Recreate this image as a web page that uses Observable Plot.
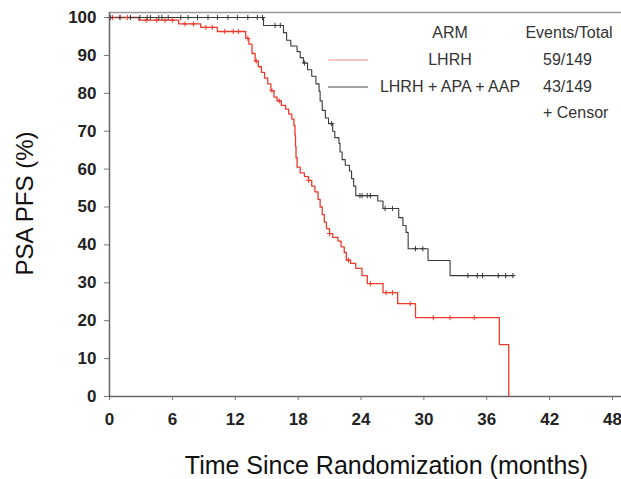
<!DOCTYPE html>
<html>
<head>
<meta charset="utf-8">
<script src="https://cdn.jsdelivr.net/npm/d3@7"></script>
<script src="https://cdn.jsdelivr.net/npm/@observablehq/plot@0.6"></script>
<style>
  html, body { margin: 0; padding: 0; background: #fff; }
  #wrap { position: relative; width: 621px; height: 479px; overflow: hidden; }
  #legend { position: absolute; left: 0; top: 0; width: 621px; height: 479px; pointer-events: none;
    font-family: "Liberation Sans Narrow", "Arial Narrow", "Liberation Sans", Arial, sans-serif; font-size: 16px; color: #333; }
  #legend div { position: absolute; white-space: nowrap; line-height: 1; }
  .c { transform: translate(-50%, -50%); }
  .l { transform: translate(0, -50%); }
  .sw { height: 0; border-top-style: solid; }
</style>
</head>
<body>
<div id="wrap"><div id="chart"></div><div id="legend"></div></div>
<script>
// ---- Data ----
const xTicks = [0, 6, 12, 18, 24, 30, 36, 42, 48];
const yTicks = [0, 10, 20, 30, 40, 50, 60, 70, 80, 90, 100];

// LHRH arm: step changes [months, PSA PFS %]
const lhrhTime  = [0, 2.8, 6.6, 8.7, 10.3, 13.0, 13.3, 13.6, 13.9, 14.2, 14.5, 14.8, 15.1, 15.4, 15.7, 16.0, 16.4, 16.8, 17.1, 17.4, 17.6, 17.7, 17.75, 17.8, 17.9, 18.2, 18.6, 19.0, 19.3, 19.6, 19.9, 20.1, 20.3, 20.5, 20.7, 21.0, 21.3, 21.8, 22.1, 22.4, 22.6, 23.0, 23.5, 24.1, 24.6, 26.1, 27.5, 29.2, 37.2, 38.1];
const lhrhValue = [100, 99.3, 98.3, 97.4, 96.3, 94.5, 93.0, 90.5, 88.5, 87.0, 85.5, 84.0, 82.5, 80.7, 79.0, 78.0, 76.8, 75.8, 74.5, 73.2, 71.5, 69.0, 66.0, 63.0, 60.5, 59.0, 58.0, 57.0, 55.5, 54.0, 52.0, 50.0, 48.0, 46.0, 44.3, 43.0, 42.0, 41.0, 39.5, 38.0, 36.0, 35.1, 33.8, 31.9, 29.8, 27.4, 24.5, 20.8, 13.7, 0];
const lhrhCensor = [0.3, 1.0, 1.7, 3.5, 4.5, 5.3, 6.0, 7.2, 8.0, 9.2, 9.8, 11.0, 11.8, 12.3, 13.2, 14.0, 15.5, 16.2, 19.0, 21.0, 22.8, 24.9, 26.4, 27.0, 28.7, 30.9, 32.5, 34.8];

// LHRH + APA + AAP arm
const comboTime  = [0, 14.7, 16.6, 16.9, 17.3, 17.9, 18.2, 18.5, 18.9, 19.3, 19.7, 20.0, 20.1, 20.3, 20.6, 20.9, 21.3, 21.5, 21.9, 22.0, 22.2, 22.5, 22.9, 23.1, 23.3, 23.5, 25.6, 26.1, 27.6, 28.0, 28.3, 28.5, 30.4, 32.5, 38.6];
const comboValue = [100, 97.9, 96.0, 94.0, 92.5, 91.0, 89.4, 88.0, 86.2, 84.5, 82.5, 80.5, 78.0, 75.5, 73.5, 72.0, 70.0, 68.3, 66.8, 64.5, 62.5, 61.0, 59.5, 57.5, 55.5, 53.0, 51.6, 49.6, 47.2, 45.1, 43.3, 39.0, 35.9, 31.9, 31.9];
const comboCensor = [0.1, 1.0, 2.0, 2.9, 3.6, 3.9, 4.7, 5.0, 5.6, 6.8, 7.5, 8.4, 9.4, 10.3, 11.3, 12.2, 13.2, 14.1, 14.6, 15.8, 16.3, 18.6, 21.2, 23.9, 24.1, 24.6, 24.9, 26.3, 27.0, 29.2, 29.9, 34.2, 35.1, 35.6, 37.1, 37.8, 38.5];

const arms = ["LHRH", "LHRH + APA + AAP"];
const armColors = ["#ee3a2c", "#3a3a3a"];
const eventsTotal = ["59/149", "43/149"];

// ---- Build tables ----
const lhrh = lhrhTime.map((t, i) => ({t, v: lhrhValue[i], arm: arms[0]}));
const combo = comboTime.map((t, i) => ({t, v: comboValue[i], arm: arms[1]}));
function valueAt(rows, t) {
  const i = d3.bisector(d => d.t).right(rows, t) - 1;
  return rows[Math.max(0, i)].v;
}
const censors = [
  ...lhrhCensor.map(t => ({t, v: valueAt(lhrh, t), arm: arms[0]})),
  ...comboCensor.map(t => ({t, v: valueAt(combo, t), arm: arms[1]}))
];

const W = 621, H = 479, mL = 109, mR = 0, mT = 12, mB = 83;
const xMax = 48 * (W - mL - mR) / (612 - mL);
const yMax = 100 * (396 - mT) / (396 - 17);
const font = '"Liberation Sans Narrow", "Arial Narrow", "Liberation Sans", Arial, sans-serif';

const chart = Plot.plot({
  width: W, height: H,
  marginLeft: mL, marginRight: mR, marginTop: mT, marginBottom: mB,
  style: {fontFamily: font, background: "#fff", overflow: "visible"},
  x: {domain: [0, xMax]},
  y: {domain: [0, yMax]},
  color: {domain: arms, range: armColors},
  marks: [
    Plot.frame({anchor: "top", stroke: "#9a9a9a", strokeWidth: 1.5}),
    Plot.axisY({ticks: yTicks, tickSize: 5, tickPadding: 8, fontSize: 17, fontWeight: "bold", stroke: "#777", color: "#222", label: null}),
    Plot.axisX({ticks: xTicks, tickSize: 4, tickPadding: 12, fontSize: 17, fontWeight: "bold", stroke: "#777", color: "#222", label: null}),
    Plot.line(lhrh, {x: "t", y: "v", stroke: "arm", curve: "step-after", strokeWidth: 1.3}),
    Plot.line(combo, {x: "t", y: "v", stroke: "arm", curve: "step-after", strokeWidth: 1.1}),
    Plot.dot(censors, {x: "t", y: "v", stroke: "arm", symbol: "plus", r: 1.8, strokeWidth: 1}),
    Plot.ruleY([0], {stroke: "#666", strokeWidth: 1.5}),
    Plot.ruleX([0], {stroke: "#666", strokeWidth: 1.5}),
    Plot.text(["PSA PFS (%)"], {frameAnchor: "left", textAnchor: "middle", lineAnchor: "middle", dx: -84, dy: -1, rotate: -90, fontSize: 24, fill: "#111"}),
    Plot.text(["Time Since Randomization (months)"], {frameAnchor: "bottom", textAnchor: "middle", lineAnchor: "middle", dy: 69, dx: 21, fontSize: 25, fill: "#111"})
  ]
});
document.getElementById("chart").appendChild(chart);

// ---- Legend (HTML overlay) ----
const lg = document.getElementById("legend");
function add(cls, text, left, top, extra) {
  const d = document.createElement("div");
  d.className = cls; d.textContent = text;
  d.style.left = left + "px"; d.style.top = top + "px";
  if (extra) Object.assign(d.style, extra);
  lg.appendChild(d);
}
add("c", "ARM", 450, 33);
add("c", "Events/Total", 569, 33);
arms.forEach((a, i) => {
  const y = 60 + i * 27;
  add("l sw", "", 328, y, {width: "40px", borderTopWidth: "1.5px", borderTopColor: i === 0 ? "#f28b82" : "#444"});
  add("c", a, 450, y);
  add("l", eventsTotal[i], 543, y);
});
add("l", "+ Censor", 543, 113);
</script>
</body>
</html>
